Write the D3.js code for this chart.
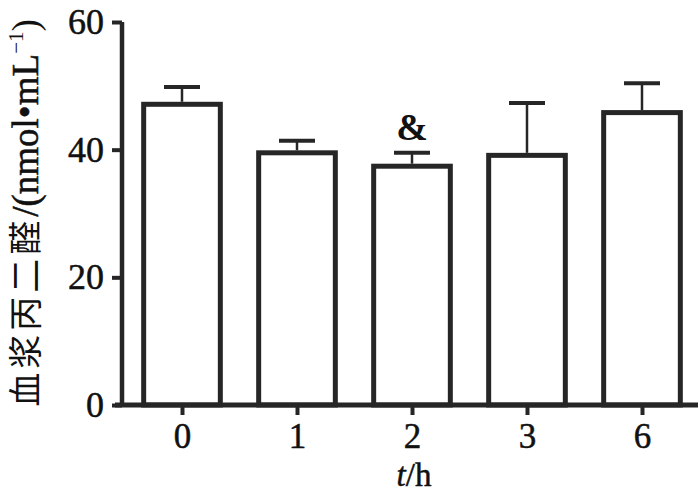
<!DOCTYPE html>
<html><head><meta charset="utf-8">
<script src="https://cdn.jsdelivr.net/npm/d3@7"></script>
<style>html,body{margin:0;padding:0;background:#fff}</style>
</head><body>
<svg id="c" width="700" height="494"></svg>
<script>
const categories = ["0", "1", "2", "3", "6"];
const means = [47.5, 39.9, 37.8, 39.5, 46.2];
const errors = [2.3, 1.5, 1.7, 7.8, 4.2];
const marks = ["", "", "&", "", ""];
const yTicks = [0, 20, 40, 60];

const svg = d3.select("#c");
const col = "#262626";
const x = d3.scalePoint().domain(categories).range([124.5, 699.5]).padding(0.5);
const y = d3.scaleLinear().domain([0, 60]).range([405, 22]);
const bw = x.step() * 0.71;
const serif = "'Liberation Serif','Times New Roman',serif";

// bars
svg.selectAll("rect.bar").data(categories).join("rect")
  .attr("x", d => x(d) - bw / 2 + 2.5)
  .attr("y", (d, i) => y(means[i]) + 2.5)
  .attr("width", bw - 5)
  .attr("height", (d, i) => y(0) - y(means[i]) - 2.5)
  .attr("fill", "#fff").attr("stroke", col).attr("stroke-width", 5);

// error bars
categories.forEach((c, i) => {
  const cx = x(c);
  svg.append("line").attr("x1", cx).attr("x2", cx)
    .attr("y1", y(means[i])).attr("y2", y(means[i] + errors[i]))
    .attr("stroke", col).attr("stroke-width", 2.5);
  svg.append("line").attr("x1", cx - 18).attr("x2", cx + 18)
    .attr("y1", y(means[i] + errors[i])).attr("y2", y(means[i] + errors[i]))
    .attr("stroke", col).attr("stroke-width", 4);
  if (marks[i]) {
    svg.append("text").attr("x", cx).attr("y", y(means[i] + errors[i]) - 13)
      .attr("text-anchor", "middle").attr("font-family", serif)
      .attr("font-weight", "bold").attr("font-size", 38).attr("fill", "#111").text(marks[i]);
  }
});

// y axis
const ya = svg.append("g").attr("transform", "translate(122,0)")
  .call(d3.axisLeft(y).tickValues(yTicks).tickSize(10).tickPadding(8));
ya.select(".domain").attr("stroke", col).attr("stroke-width", 4.5).attr("d", `M0,${y(60)}V${y(0)+2}`);
ya.selectAll(".tick line").attr("stroke", col).attr("stroke-width", 4);
ya.selectAll(".tick text").attr("font-family", serif).attr("font-size", 36).attr("fill", "#111")
  .attr("stroke", "#111").attr("stroke-width", 0.5);

// x axis
const xa = svg.append("g").attr("transform", `translate(0,${y(0)})`)
  .call(d3.axisBottom(x).tickSize(10).tickPadding(8));
xa.select(".domain").attr("stroke", col).attr("stroke-width", 5).attr("d", "M115,0H698");
xa.selectAll(".tick line").attr("stroke", col).attr("stroke-width", 4);
xa.selectAll(".tick text").attr("font-family", serif).attr("font-size", 35).attr("fill", "#111")
  .attr("stroke", "#111").attr("stroke-width", 0.5);

// x label
const xl = svg.append("text").attr("x", 414).attr("y", 486).attr("text-anchor", "middle")
  .attr("font-family", serif).attr("font-size", 33).attr("fill", "#111")
  .attr("stroke", "#111").attr("stroke-width", 0.5);
xl.append("tspan").attr("font-style", "italic").text("t");
xl.append("tspan").text("/h");

// y label
const yl = svg.append("text").attr("transform", "translate(38,213) rotate(-90)")
  .attr("text-anchor", "middle").attr("font-size", 34).attr("fill", "#111")
  .attr("font-family", "'Noto Sans CJK SC', sans-serif");
yl.append("tspan").attr("letter-spacing", 4).text("血浆丙二醛");
yl.append("tspan").attr("font-family", serif).attr("font-size", 37)
  .attr("stroke", "#111").attr("stroke-width", 0.5).text("/(nmol•mL");
yl.append("tspan").attr("font-family", serif).attr("font-size", 21).attr("dy", -15).text("−1");
yl.append("tspan").attr("font-family", serif).attr("font-size", 37).attr("dy", 15).text(")");
</script>
</body></html>
